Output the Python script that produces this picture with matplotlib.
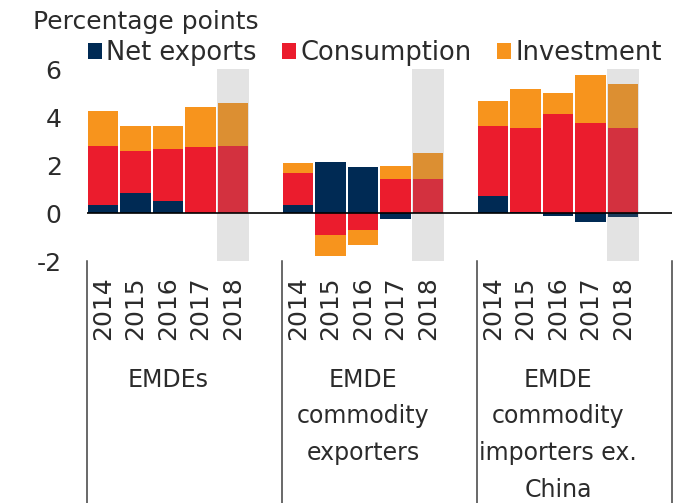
import numpy as np
import matplotlib
matplotlib.use('Agg')
import matplotlib.pyplot as plt
import matplotlib.transforms as mtransforms

plt.rcParams['font.family'] = ['DejaVu Sans']
plt.rcParams['axes.unicode_minus'] = False

years = ['2014', '2015', '2016', '2017', '2018']
groups = ['EMDEs', 'EMDE\ncommodity\nexporters', 'EMDE\ncommodity\nimporters ex.\nChina']

# contributions, percentage points (EMDEs, exporters, importers ex. China)
net_exports = [0.33, 0.85, 0.50, 0.00, 0.00,
               0.35, 2.14, 1.90, -0.25, 0.00,
               0.70, 0.03, -0.11, -0.38, -0.18]
consumption = [2.47, 1.73, 2.17, 2.74, 2.80,
               1.30, -0.93, -0.72, 1.43, 1.43,
               2.93, 3.50, 4.12, 3.74, 3.53]
investment = [1.46, 1.06, 0.96, 1.66, 1.80,
              0.42, -0.87, -0.63, 0.54, 1.07,
              1.04, 1.64, 0.88, 2.01, 1.83]

series = [('Net exports', net_exports, '#002A54'),
          ('Consumption', consumption, '#EB1C2D'),
          ('Investment', investment, '#F7941D')]

text_col = '#2b2b2b'

fig = plt.figure(figsize=(6.87, 5.03), dpi=100)
ax = fig.add_axes([0.1262, 0.4811, 0.8515, 0.3817])

x = np.array([g * 6 + i for g in range(len(groups)) for i in range(len(years))])
pos_base = np.zeros(len(x))
neg_base = np.zeros(len(x))
handles = []
for name, vals, col in series:
    vals = np.array(vals)
    bottom = np.where(vals >= 0, pos_base, neg_base)
    b = ax.bar(x, vals, bottom=bottom, width=0.93, color=col, label=name, zorder=2)
    handles.append(b)
    pos_base += np.where(vals > 0, vals, 0)
    neg_base += np.where(vals < 0, vals, 0)

# forecast year shading
for g in range(len(groups)):
    ax.axvspan(g * 6 + 3.52, g * 6 + 4.5, color='#808080', alpha=0.22, lw=0, zorder=3)

ax.axhline(0, color='black', lw=1.2, zorder=4)

ax.set_xlim(-0.5, 17.5)
ax.set_ylim(-2, 6)
ax.set_yticks([-2, 0, 2, 4, 6])
ax.set_xticks(x)
ax.set_xticklabels(years * len(groups), rotation=90)
ax.tick_params(axis='x', length=0, pad=11, labelsize=18, labelcolor=text_col)
ax.tick_params(axis='y', length=0, pad=18, labelsize=18, labelcolor=text_col)
for s in ax.spines.values():
    s.set_visible(False)

trans = mtransforms.blended_transform_factory(ax.transData, ax.transAxes)
for sx in [-0.5, 5.5, 11.5, 17.5]:
    ax.plot([sx, sx], [0, -1.27], transform=trans, color='#404040', lw=1.1, clip_on=False)
for g, lab in enumerate(groups):
    ax.text(g * 6 + 2, -0.555, lab, transform=trans, ha='center', va='top',
            fontsize=17, color=text_col, linespacing=1.68)

fig.text(33 / 687, 1 - 29 / 503, 'Percentage points', ha='left', va='baseline',
         fontsize=18, color=text_col)

fig.legend(handles=handles, loc='center left', bbox_to_anchor=(88 / 687, 1 - 53 / 503),
           ncol=3, frameon=False, fontsize=18.5, handlelength=0.55, handleheight=0.55,
           handletextpad=0.15, columnspacing=1.0, borderpad=0, borderaxespad=0,
           labelcolor=text_col)

fig.savefig('out.png', dpi=100)
